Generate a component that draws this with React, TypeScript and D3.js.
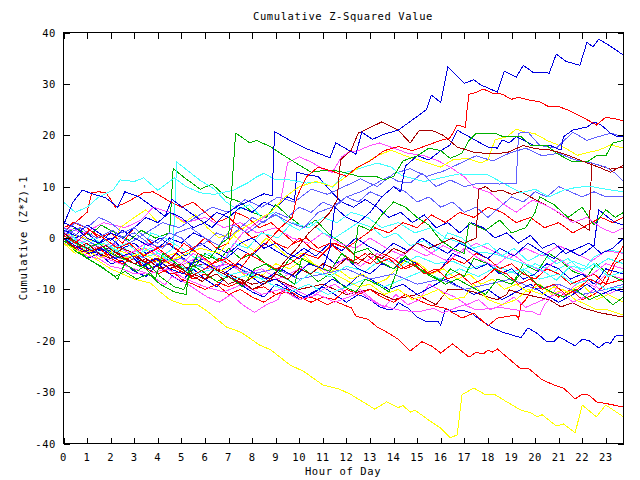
import React from 'react';
import * as d3 from 'd3';

type P = [number, number];

const hourTicks = [0, 1, 2, 3, 4, 5, 6, 7, 8, 9, 10, 11, 12, 13, 14, 15, 16, 17, 18, 19, 20, 21, 22, 23];
const valueTicks = [-40, -30, -20, -10, 0, 10, 20, 30, 40];
const title = 'Cumulative Z-Squared Value';
const xTitle = 'Hour of Day';
const yTitle = 'Cumulative (Z*Z)-1';

const blueTop: P[] = [[0,2.5],[0.4,7],[0.8,9.3],[1.3,8.5],[1.8,7.8],[2.3,6],[2.6,9],[3.2,8],[3.8,6],[4.3,4.2],[4.6,7.5],[5.2,5.5],[5.8,3.5],[6.3,2],[6.8,4.5],[7.4,6.2],[8,7.5],[8.5,8.6],[8.85,8.2],[8.95,20.7],[9.6,19],[10.3,17.4],[11.3,15.6],[11.55,18.5],[12.4,16.3],[12.65,20.6],[13.1,19.2],[13.6,20.2],[14.2,21],[14.8,23],[15.4,25],[15.6,27.8],[16,26.4],[16.3,33.3],[17,30.1],[17.4,30.8],[17.7,29.8],[18.4,28.4],[18.7,32.5],[19.2,31.3],[19.5,33.6],[19.9,32.3],[20.6,32.1],[20.9,35.8],[21.3,34.4],[21.9,33.6],[22.2,38.1],[22.45,37.2],[22.7,38.7],[23.1,37.6],[23.75,35.6]];
const redHigh: P[] = [[0,0.5],[0.5,-1],[1.1,1.5],[1.7,0],[2.3,-2],[2.8,-1],[3.4,-3.5],[4,-2],[4.6,-4],[5.1,-1],[5.7,-3],[6.3,-5],[6.9,-4],[7.5,-6],[8,-3],[8.6,-1],[9.2,2],[9.7,4],[9.9,8],[10.3,11.9],[10.8,13.8],[11.4,13],[12,12],[12.4,13.6],[13,15],[13.6,17],[14.2,17.8],[14.8,17],[15.4,18],[16,19],[16.4,19.5],[16.7,22],[17.05,21.5],[17.1,24.5],[17.2,28],[17.5,28.3],[17.8,29],[18.2,28.2],[18.6,28],[19,27],[19.3,27.4],[19.7,26.9],[20.2,26.5],[20.6,25.5],[21,25.6],[21.5,24.7],[22.1,23.3],[22.6,22],[23,23.5],[23.4,23.2],[23.75,22.8]];
const darkRedHigh: P[] = [[0,1],[0.6,-1],[1.2,-2.5],[1.8,-1.5],[2.4,-3.5],[3,-5],[3.5,-4],[4.1,-6],[4.7,-5],[5.3,-7],[5.9,-8.5],[6.4,-6],[7,-7.5],[7.6,-9],[8.2,-7],[8.8,-8],[9.3,-5],[9.9,-2],[10.4,1],[10.9,3],[11.3,5],[11.6,7.4],[11.75,15.2],[12.2,17.1],[12.5,20.4],[13,21.5],[13.5,22.6],[14.2,21],[14.7,18.5],[15.1,21],[15.6,21],[16.1,20],[16.7,17.7],[17.4,16.7],[18.1,16.4],[18.8,16.6],[19.5,18],[20,17.4],[20.7,17.1],[21.4,16.1],[22.1,14.8],[22.8,13.6],[23.2,12.8],[23.75,14.2]];
const greenJump: P[] = [[0,1],[0.5,-1],[1,-2],[1.5,-1],[2,-3],[2.5,-4],[3,-5],[3.5,-6],[3.9,-8],[4.2,-3],[4.8,-5],[5.3,-7],[5.7,-3],[6.2,-4],[6.7,-1],[7,0],[7.1,7],[7.3,20.4],[7.6,19.5],[7.9,18.5],[8.2,19],[8.8,17.7],[9.5,15.6],[10,14.2],[10.5,12.8],[11.1,13.2],[11.7,13],[12.6,11.9],[13.3,11.9],[13.6,11.3],[14,12],[14.4,15],[15,16],[15.5,17.5],[16,17],[16.4,15.5],[16.9,16.5],[17.2,19],[17.5,20.4],[18.3,20.4],[18.6,19.8],[19.4,19.8],[19.8,18],[20.5,18],[20.9,16.5],[21.6,14.8],[22.2,14.8],[22.6,16],[23,16],[23.3,18.5],[23.75,19]];
const blueUpper: P[] = [[0,0],[0.5,-1.5],[1.1,-3],[1.6,-2],[2.2,-4],[2.8,-3],[3.3,-5.5],[3.9,-4],[4.5,-6],[5.1,-7],[5.6,-4],[6.2,-5.5],[6.8,-7],[7.4,-5],[8,-6.5],[8.6,-8],[9.2,-6],[9.8,-7.5],[10.4,-5],[11,-6],[11.3,-2],[11.5,6],[12,4],[12.5,3],[13,5],[13.5,8],[14,10],[14.3,9],[14.5,14],[15,16],[15.5,15.2],[16,17],[16.4,18.1],[16.7,21],[17.2,19.7],[18,17.7],[18.4,17.5],[18.6,19.1],[18.9,18.5],[19.2,19.7],[19.5,19.1],[19.9,18.1],[20.6,18.1],[21.1,17.1],[21.2,19.7],[21.6,21],[22.2,21.6],[22.5,22.6],[22.8,22],[23.2,20.4],[23.5,19.7],[23.75,19.8]];
const lightBlueUpper: P[] = [[0,2],[0.6,0.5],[1.2,-1],[1.8,-2.5],[2.4,0],[3,1],[3.6,-1],[4.2,-2],[4.8,1],[5.4,2],[6,0],[6.6,-1.5],[7.2,2.5],[7.8,1],[8.4,3],[9,4.5],[9.6,3],[10.2,2],[10.8,5],[11.4,6],[12,8],[12.6,9],[13.2,10.5],[13.8,12],[14.2,11],[14.7,10.7],[15.2,12.6],[15.8,10],[16.4,11.3],[17,10],[17.6,10.7],[18.5,10.5],[19.2,10.7],[19.3,20.4],[19.7,20.6],[20.2,18],[20.9,17.5],[21.6,20.6],[22.2,19],[22.6,19.6],[23.2,20.4],[23.75,19.7]];
const lightBlueHigh: P[] = [[0,0.5],[0.7,2],[1.4,0],[2.1,1.5],[2.8,-1],[3.5,1],[4.2,3],[4.9,2],[5.6,4],[6.3,6],[7,5],[7.7,7.5],[8.4,6],[9.1,8],[9.8,7],[10.5,9.5],[11.2,8.5],[11.9,10],[12.6,11.5],[13.3,10],[14,12.5],[14.7,13.5],[15.4,12],[16.1,13],[16.8,14.5],[17.5,16],[18.2,15],[18.9,16.5],[19.6,17.5],[20.3,16],[21,16.5],[21.7,15.2],[22.4,14.6],[23,13.8],[23.4,12.6],[23.75,11]];
const cyanTop: P[] = [[0,7],[0.5,5],[1,6],[1.5,8],[2.1,9.3],[2.4,11.3],[3,11],[3.4,11.7],[4,9.3],[4.7,11.7],[5.2,10],[5.8,8.8],[6.4,8.5],[7.2,9.3],[7.8,10.7],[8.2,11.9],[8.5,12.6],[9,11.3],[9.6,11.3],[10.3,10.7],[11,10.8],[11.4,9.9],[12,12.8],[12.6,13.6],[13.3,14.6],[13.9,13.8],[14.3,12.3],[14.7,11.7],[15.3,11],[15.8,11.5],[16.3,12],[16.8,12.5],[17.2,12.3],[18,12.3],[18.8,10.3],[19.4,8.8],[20,9.5],[20.6,8],[21.2,9.3],[21.8,9.9],[22.4,10],[23,9.5],[23.75,9]];
const cyanJump: P[] = [[0,1],[0.5,-0.5],[1,-1.5],[1.6,0.5],[2.1,-2],[2.7,-1],[3.2,-3],[3.7,-2],[4.2,-3.5],[4.65,-2],[4.8,14.8],[5.3,13],[5.8,11.2],[6.4,9.5],[6.9,7],[7.4,5.5],[7.9,6.5],[8.4,4],[8.9,5],[9.4,3],[10,1.5],[10.5,3],[11,1],[11.5,0],[12,1.5],[12.5,3],[13.1,2],[13.6,0],[14.1,1],[14.7,-1.5],[15.3,-0.5],[15.8,-2.5],[16.3,1],[16.9,0],[17.4,-2],[18,-1],[18.6,-3.5],[19.1,-2],[19.7,-4.5],[20.3,-3],[20.9,-5],[21.4,-4],[22,-6.5],[22.5,-5],[23.1,-7.5],[23.75,-6.5]];
const cyanMid: P[] = [[0,2],[0.7,-1],[1.3,0],[2,-3],[2.6,-2],[3.2,-4],[3.7,1],[4.3,0],[5,-2],[5.6,-4],[6.2,-3],[6.8,-5],[7.2,-1],[7.8,-2],[8.4,1],[9.1,0],[9.7,3],[10.4,2],[11,4],[11.6,3],[12.2,5],[12.9,4],[13.5,2],[14.2,3],[14.9,1],[15.6,2],[16.2,0],[16.9,-1],[17.5,-2.7],[18.2,-3],[18.9,-4],[19.5,-5],[20.2,-6],[20.9,-8.2],[21.5,-5.5],[22.1,-6],[22.5,-3.7],[23.1,-2.3],[23.75,-2.8]];
const cyanLow: P[] = [[0,0],[0.9,-2],[1.7,-1],[2.6,-3.5],[3.5,-5],[4.3,-4],[5.2,-6.5],[6,-5],[6.8,-7.5],[7.6,-6.5],[8.4,-8],[9.1,-7],[9.8,-9],[10.6,-6.5],[11.3,-7.5],[12,-5.5],[12.8,-6.5],[13.5,-4],[14.3,-5.5],[15,-3.5],[15.8,-5],[16.5,-4.5],[17.2,-6],[18,-5],[18.7,-7],[19.5,-6],[20.2,-8],[21,-7],[21.7,-9],[22.4,-8],[23,-10],[23.75,-9.5]];
const cyanLower: P[] = [[0,0.5],[0.8,-1.5],[1.6,-3],[2.4,-2],[3.2,-4],[4,-3],[4.8,-5],[5.6,-7],[6.4,-6],[7.2,-8],[8,-7],[8.8,-9],[9.6,-10.5],[10.4,-9],[11.2,-11],[12,-9.5],[12.8,-8],[13.6,-9.5],[14.4,-8],[15.2,-6.5],[16,-8],[16.8,-6],[17.6,-7.5],[18.4,-5.5],[19.2,-7],[20,-5],[20.8,-6.5],[21.6,-4.5],[22.4,-6],[23.1,-4],[23.75,-5]];
const magentaHigh: P[] = [[0,-1],[0.8,-3],[1.6,-2],[2.4,-4],[3,-2.5],[3.5,-1],[4.2,-3],[5,-5],[5.5,-3],[6.1,-4.5],[6.6,-6],[7.1,-2],[7.6,1],[8.2,3],[8.8,5],[9.2,7],[9.5,14.6],[10,15.8],[10.5,14.8],[11.1,13.2],[11.4,12.8],[11.8,15.8],[12.1,16.7],[12.5,17],[13,18],[13.4,18.5],[14,17.5],[14.6,16.5],[15.3,16],[15.9,15],[16.4,13.8],[17,11.9],[17.4,9.9],[18.1,8.8],[18.6,6.8],[19.2,5],[19.9,7.4],[20.4,6.5],[21,5],[21.6,3],[22.2,4],[22.8,2],[23.3,1],[23.75,2]];
const magentaLow: P[] = [[0,0],[0.5,-2],[1,-3.5],[1.5,-4],[2,-5.5],[2.5,-6],[3,-7],[3.5,-6.8],[4,-8.2],[4.3,-9.1],[4.6,-7.5],[5.1,-8.5],[5.6,-10],[6.1,-11.5],[6.6,-12.5],[7.1,-11],[7.6,-13],[8.1,-14.5],[8.6,-13],[9.1,-12],[9.4,-9],[10,-10.5],[10.5,-11.5],[11,-10],[11.5,-9],[12.1,-11],[12.6,-10],[13.1,-12],[13.6,-13.5],[14.1,-11],[14.6,-13],[15.1,-12],[15.5,-9],[16.1,-10.5],[16.6,-11.5],[17.1,-13],[17.6,-12],[18.1,-14],[18.6,-13],[19.1,-11.5],[19.6,-13.5],[20.1,-12.5],[20.6,-11.5],[21.1,-10.5],[21.6,-12.5],[22.1,-11.5],[22.6,-9.5],[23.1,-11],[23.75,-9.5]];
const magentaBottom: P[] = [[0,-1],[0.9,-2.5],[1.8,-4],[2.7,-5.5],[3.6,-7],[4.4,-6],[5.2,-8],[6,-9.5],[6.8,-10.5],[7.6,-9],[8.4,-11],[9.2,-10],[10,-12],[10.8,-11],[11.5,-12.5],[12.1,-11.5],[12.6,-10.5],[13,-12],[13.4,-13],[14.2,-14],[15,-14.4],[15.7,-13.7],[16.1,-14.6],[16.4,-14],[17,-13],[17.5,-14],[18.5,-13.5],[19.2,-14],[19.9,-14.4],[20.2,-15],[20.4,-13],[20.6,-12],[21,-9],[21.5,-10],[22,-8],[22.5,-9.5],[23,-7],[23.75,-8]];
const magentaMid: P[] = [[0,2],[0.9,1],[1.7,3],[2.6,2],[3.3,3.5],[3.8,6],[4.5,5],[5.2,3],[6,4],[6.8,2],[7.5,3],[8.2,1],[9,2],[9.7,0],[10.4,-1],[11,1],[11.7,-1],[12.4,-2],[13,0],[13.7,-2],[14.4,-3.5],[15,-1],[15.6,-3],[16.3,-4.5],[17,-2],[17.6,-4],[18.3,-5.5],[19,-3],[19.6,-5],[20.3,-6.5],[21,-4],[21.6,-6],[22.3,-7.5],[23,-5],[23.75,-6]];
const magentaMid2: P[] = [[0,1],[0.7,-0.5],[1.4,-2],[2.1,-1],[2.8,-3],[3.5,-2],[4.2,-4],[4.9,-5.5],[5.6,-4],[6.3,-6],[7,-5],[7.7,-7],[8.4,-6],[9.1,-8],[9.8,-6.5],[10.5,-5],[11.2,-6.5],[11.9,-4],[12.6,-5.5],[13.3,-3],[14,-4.5],[14.7,-2],[15.4,-3.5],[16.1,-1.5],[16.8,-3],[17.5,-1],[18.2,-2.5],[18.9,-4],[19.6,-2],[20.3,-3.5],[21,-1.5],[21.7,-3],[22.4,-4.5],[23,-2.5],[23.75,-3]];
const yellowBottom: P[] = [[0,0],[0.5,-1.5],[1,-3],[1.5,-4.5],[2,-6],[2.5,-7],[3,-8],[3.7,-8.8],[4.1,-10.5],[4.5,-12],[5.1,-13],[5.7,-13],[6.2,-14.6],[6.9,-17.3],[7.5,-18.3],[7.9,-19.5],[8.3,-20.8],[8.8,-21.8],[9.6,-24.7],[10.2,-26],[11,-28.6],[11.7,-29.4],[12.2,-30.5],[12.7,-31.9],[13.2,-33.3],[13.7,-31.9],[14.2,-33],[14.4,-32.6],[14.7,-33.9],[14.9,-33.5],[15.6,-35.8],[16,-37],[16.4,-38.9],[16.7,-38.3],[16.9,-30.5],[17.4,-29.2],[17.9,-30.5],[18.3,-30.5],[18.8,-31.9],[19.4,-33.5],[19.8,-34],[20.1,-34.8],[20.3,-34.4],[20.9,-36.6],[21.2,-36.2],[21.7,-37.9],[22,-32.5],[22.6,-34.8],[23,-32.5],[23.75,-34.8]];
const yellowHigh: P[] = [[0,-1],[0.8,-3],[1.6,-2],[2.5,-4],[3.3,-3],[4.2,-5],[5,-3.5],[5.8,-2],[6.6,-3],[7.3,1],[8,3],[8.8,5],[9.4,8],[10,10],[10.7,11],[11.4,10],[12,12],[12.6,14],[13.3,16],[13.9,17.1],[14.5,16],[15.2,15],[16,13.8],[16.5,15.2],[17.1,15.5],[17.7,14.6],[18,15.2],[18.3,19.1],[18.8,19.7],[19.2,21.2],[19.6,20.6],[20,20.3],[20.5,19],[21.2,17.7],[21.8,16.1],[22.2,16.6],[22.7,17.1],[23.2,18.1],[23.75,17.5]];
const yellowMid: P[] = [[0,-1],[0.5,-3],[1,-2],[1.5,-4],[2,-3],[2.4,2],[3,4],[3.5,5.5],[4,3],[4.5,5],[5.1,3],[5.6,4.5],[6.1,2],[6.6,0],[7.1,1],[7.6,-1],[8.1,-2.5],[8.6,0],[9.1,-2],[9.6,-4],[10.1,-3],[10.6,-5],[11.1,-7],[11.6,-6],[12.2,-8],[12.7,-7],[13.2,-9],[13.7,-8],[14.1,-6],[14.6,-4],[15.1,-5],[15.6,-7],[16.1,-6],[16.7,-8],[17.2,-7],[17.7,-9],[18.2,-8],[18.7,-10],[19.2,-9],[19.7,-10.5],[20.2,-9],[20.7,-11],[21.2,-10],[21.7,-12],[22.2,-13],[22.6,-14],[23.1,-14],[23.75,-15]];
const yellowLow: P[] = [[0,1],[0.9,0],[1.8,-1.5],[2.7,-3],[3.4,-2],[4.1,-4],[4.7,-3],[5.3,-5],[5.9,-4],[6.6,-6.5],[7.2,-5.5],[7.9,-8],[8.5,-7],[9,-5],[9.6,-6],[10.2,-4],[10.8,-5.5],[11.3,-6.5],[11.9,-8],[12.5,-9.5],[13,-9],[13.6,-11],[14.2,-10],[14.8,-12],[15.4,-11],[15.9,-10],[16.4,-12],[17,-11.5],[17.4,-9],[18,-12],[18.6,-13],[19.2,-12],[19.7,-10],[20.3,-11],[20.8,-9.5],[21.4,-10.5],[22,-9],[22.6,-12],[23.1,-11],[23.75,-12.5]];
const redLow: P[] = [[0,0],[0.5,-1.5],[1,-2.5],[1.5,-2],[2,-4],[2.5,-3.5],[3,-5],[3.5,-6],[4,-5.5],[4.5,-7],[5,-6.5],[5.5,-8],[6,-7],[6.5,-8.5],[7,-9.5],[7.5,-8.5],[8,-10],[8.5,-9.5],[9,-11],[9.5,-10.5],[10,-12],[10.5,-11.5],[11,-12.5],[11.2,-13],[11.5,-12.3],[12.2,-13.6],[12.4,-15.2],[12.9,-15.8],[13.3,-17.3],[13.7,-18.3],[14.2,-19.7],[14.7,-22],[15.2,-20.2],[15.6,-21],[16,-22.4],[16.5,-20.6],[17.2,-23.2],[17.5,-22.2],[17.8,-22.6],[18,-21.8],[18.2,-22.2],[18.4,-21.6],[19.4,-25.5],[19.7,-25.3],[20.3,-27.6],[20.8,-28.6],[21.2,-29.2],[21.7,-31.3],[22,-30.4],[22.3,-30.6],[22.6,-31.9],[23.1,-32.3],[23.75,-32.9]];
const blueLow: P[] = [[0,-1],[0.5,-2],[1,-4],[1.5,-3],[2,-5],[2.5,-4.5],[3,-6.5],[3.5,-7.5],[4,-5],[4.5,-7],[5,-8.5],[5.5,-6],[6,-8],[6.5,-9.5],[7,-7],[7.5,-9],[8,-10.5],[8.5,-11.5],[9,-9],[9.5,-10],[10,-12],[10.5,-11],[11,-9.5],[11.5,-11],[12,-12.5],[12.5,-11],[13,-12],[13.4,-13.4],[13.8,-14],[14,-13.8],[14.2,-12.6],[14.6,-13.6],[15,-15.4],[15.4,-16.3],[15.9,-16.3],[16,-17],[16.2,-13.7],[16.5,-14.4],[16.9,-14],[17.3,-14.6],[17.7,-16],[18.2,-17.5],[18.6,-18.3],[19.4,-19.4],[19.7,-17.5],[20.1,-18.6],[20.5,-20.2],[20.8,-20.2],[21,-19.2],[21.7,-21],[22,-19.7],[22.3,-20],[22.7,-21.4],[23,-20.3],[23.2,-20.5],[23.4,-19.1],[23.75,-18.9]];
const blueLow2: P[] = [[0,0],[0.6,-1],[1.2,-3],[1.8,-2],[2.4,-4],[3,-3.5],[3.6,-6],[4.2,-5],[4.8,-3],[5.4,-5],[6,-4],[6.6,-6.5],[7.2,-5],[7.8,-7],[8.4,-9],[9,-8],[9.6,-10],[10.2,-11.5],[10.8,-10],[11.4,-8],[12,-9.5],[12.6,-7],[13.2,-8.5],[13.8,-10],[14.4,-9],[15,-11],[15.6,-9.5],[16.2,-8],[16.8,-9.5],[17.4,-11],[18,-10],[18.6,-12],[19.2,-10.5],[19.8,-9],[20.4,-11],[21,-12.5],[21.6,-11],[22.2,-9],[22.8,-11],[23.3,-10],[23.75,-10.5]];
const redMidLow: P[] = [[0,0],[0.5,-1],[1,-3],[1.5,-2],[2,-4],[2.5,-5],[3,-4],[3.5,-6],[4,-7],[4.5,-6],[5,-8],[5.5,-9],[6,-10],[6.5,-9],[7,-11],[7.5,-10],[8,-11.5],[8.5,-12.5],[9,-11],[9.5,-10],[10,-11.5],[10.5,-12.5],[11,-11.5],[11.5,-12],[12,-10],[12.5,-11],[13,-10],[13.5,-11.5],[14,-12.5],[14.5,-11],[15,-12],[15.5,-13],[16.2,-13.7],[16.9,-15.6],[17.4,-14.6],[18,-17.1],[18.4,-15.6],[19.2,-15],[19.3,-15.8],[19.4,-13],[19.6,-12],[20,-9],[20.5,-10],[21,-11.5],[21.5,-10],[22,-12],[22.5,-11],[23,-9],[23.4,-5],[23.75,-4]];
const redMid: P[] = [[0,1],[0.4,3],[1,2],[1.5,0],[2,1],[2.5,-1],[3,2],[3.5,0],[4,-2],[4.5,-1],[5,-3],[5.5,-2],[6,0],[6.5,-2],[7,-1],[7.3,5],[7.8,4],[8.3,2],[8.8,3],[9.3,1],[9.8,-1],[10.3,0],[10.8,-2],[11.3,-1],[11.8,-3],[12.3,-4.5],[12.8,-3],[13.3,-5],[13.8,-4],[14.3,-6],[14.8,-5],[15.3,-7],[15.8,-6],[16.3,-8],[16.8,-7],[17.3,-9],[17.8,-8],[18.3,-6],[18.8,-7],[19.3,-9],[19.8,-8],[20.3,-10],[20.8,-9],[21.3,-11],[21.8,-10],[22.3,-8],[22.8,-9],[23.3,-5],[23.75,-1.5]];
const redMid2: P[] = [[0,-0.5],[0.6,-2],[1.2,-1],[1.8,-3],[2.4,-4.5],[3,-3.5],[3.6,-5],[4.2,-4],[4.8,-6],[5.4,-7.5],[6,-6],[6.6,-4],[7.2,-5.5],[7.8,-3],[8.4,-4.5],[9,-6],[9.6,-5],[10.2,-3],[10.8,-4],[11.4,-1],[12,-2],[12.6,0],[13.2,2],[13.8,1],[14.4,3],[15,2],[15.6,4.5],[16.2,3],[16.8,5],[17.4,4],[18,6],[18.6,5],[19.2,3],[19.8,4],[20.4,2],[21,3],[21.6,1],[22.2,2.5],[22.8,4],[23.3,3],[23.75,4]];
const redEarly: P[] = [[0,2],[0.5,3],[1,5],[1.2,8.8],[1.5,9],[1.8,8.8],[2,7.5],[2.2,6],[2.7,7],[3.4,8.8],[3.8,9],[4.4,7.4],[5,6],[5.5,7],[6,5],[6.5,3],[7,4],[7.5,2],[8,0],[8.5,1],[9,-1],[9.5,-2],[10,0],[10.5,-2],[11,-3],[11.5,-1],[12,-2],[12.5,-4],[13,-5],[13.5,-3],[14,-4],[14.5,-6],[15,-5],[15.5,-7],[16,-6],[16.5,-4],[17,-5],[17.5,-3],[18,-4],[18.5,-6],[19,-5],[19.5,-7],[20,-8],[20.5,-6],[21,-7],[21.5,-9],[22,-8],[22.5,-7],[23,-9],[23.75,-8]];
const darkRedMid: P[] = [[0,0],[0.5,-2],[1,-1],[1.5,-3],[2,-4],[2.5,-2],[3,-3],[3.5,-5],[4,-4],[4.5,-6],[5,-5],[5.5,-7],[6,-8],[6.5,-7],[7,-9],[7.5,-8],[8,-10],[8.5,-9],[9,-7],[9.5,-8],[10,-6],[10.5,-7],[11,-5],[11.5,-6],[12,-4],[12.5,-5],[13,-3],[13.5,-4],[14,-2],[14.5,-3],[15,-1],[15.5,-2],[16,-1],[16.5,0],[17,-1],[17.5,0],[17.6,9.5],[17.9,10],[18.2,9],[18.6,9.3],[19,8.5],[19.4,9],[19.8,8],[20.3,6.8],[20.8,5.5],[21.3,4],[21.8,3],[22.3,1.5],[22.4,14.6],[22.8,14],[23.2,13.4],[23.75,13.8]];
const darkRedLow: P[] = [[0,-1],[1,-3],[2,-2],[3,-5],[4,-4],[5,-6],[6,-5],[7,-7],[8,-9],[9,-8],[10,-10],[11,-9],[12,-11],[13,-10],[14,-12],[15,-11],[15.8,-13],[16.3,-10.1],[16.9,-10],[17.4,-10.5],[18,-11.5],[18.4,-12],[18.8,-11],[18.9,-10.1],[19.4,-10.8],[20.1,-11.5],[20.6,-12],[21.1,-13.4],[21.6,-12.6],[22,-13.6],[22.8,-14.6],[23.75,-15.4]];
const blueJump: P[] = [[0,3],[0.5,2],[1,0],[1.5,-1],[2,1],[2.5,0],[3,2],[3.5,4],[4,3],[4.5,5],[5,4],[5.5,2],[6,3],[6.5,5],[7,4],[7.5,6],[8,5],[8.5,7],[9,6],[9.5,8],[9.8,7.4],[9.9,12.8],[10.4,12.2],[10.8,12],[11.3,9.3],[11.8,7],[12.3,6],[12.8,7.5],[13.3,6],[13.8,4],[14.3,5],[14.8,3],[15.3,4.5],[15.8,2],[16.3,3],[16.8,1],[17.3,3],[17.8,2],[18.3,0],[18.8,1],[19.3,-1],[19.8,0.5],[20.3,-2],[20.8,-1],[21.3,-3],[21.8,-2],[22.3,-1],[22.8,-3],[23.3,-2],[23.75,0]];
const blueMid: P[] = [[0,2],[0.5,0],[1,1],[1.5,-1],[2,0],[2.5,-2],[3,-1],[3.5,-3],[4,-2],[4.5,0],[5,-1],[5.5,1],[6,0],[6.5,-2],[7,-3],[7.5,-1],[8,0],[8.5,-2],[9,-1],[9.5,-3],[10,-4],[10.5,-2],[11,-3],[11.5,-5],[12,-4],[12.5,-6],[13,-7],[13.5,-5],[14,-6],[14.5,-4],[15,-5],[15.5,-7],[16,-6],[16.5,-3],[17,-4],[17.5,-6],[18,-5],[18.5,-7],[19,-6],[19.5,-8],[20,-7],[20.5,-5],[21,-6],[21.5,-8],[22,-7],[22.5,-9],[23,-6],[23.75,-7]];
const blueLate: P[] = [[0,1.5],[0.5,0.5],[1,2.5],[1.5,1],[2,-0.5],[2.5,1.5],[3,0],[3.6,-1.5],[4.1,0],[4.7,-2],[5.2,-3.5],[5.8,-1],[6.3,-2.5],[6.9,-4],[7.4,-2],[8,-3.5],[8.5,-1],[9,-2.5],[9.6,-4],[10.2,-2],[10.7,-3.5],[11.3,-1],[11.8,-2.5],[12.4,0],[12.9,-1.5],[13.5,-3],[14,-1],[14.6,-2.5],[15.2,0],[15.7,-1.5],[16.3,-3],[16.8,-1],[17.4,-2.5],[18,-4],[18.5,-2],[19.1,-3.5],[19.7,-1],[20.2,-2.5],[20.8,-4],[21.3,-2],[21.9,-3.5],[22.5,-1.5],[22.7,5.5],[23.1,4],[23.4,3],[23.75,2.5]];
const lightBlueMid: P[] = [[0,1],[0.5,3],[1,2],[1.5,4],[2,3],[2.5,1],[3,2],[3.5,0],[4,-1],[4.5,1],[5,0],[5.5,-2],[6,-1],[6.5,1],[7,0],[7.5,2],[8,4],[8.5,3],[9,5],[9.5,4],[10,6],[10.5,5],[11,7],[11.5,6],[12,8],[12.5,7],[13,9],[13.5,8],[14,10],[14.5,9],[15,7],[15.5,8],[16,6],[16.5,7],[17,5],[17.5,6],[18,4],[18.5,6],[19,8],[19.5,7],[20,9],[20.5,8],[21,10],[21.5,9],[22,8],[22.5,9],[23,8],[23.75,8]];
const lightBlueLow: P[] = [[0,0],[1,-2],[2,-4],[3,-3],[4,-5],[5,-4],[6,-6],[7,-5],[8,-7],[9,-6],[10,-8],[11,-7],[12,-6],[13,-8],[14,-7],[15,-9],[16,-8],[17,-10],[18,-9],[19,-8],[20,-10],[21,-9],[22,-11],[23,-10],[23.75,-9]];
const greenMid: P[] = [[0,-0.5],[0.6,-2.5],[1.2,-4.5],[1.7,-6],[2.2,-7.5],[2.6,-6.5],[3.1,-8],[3.6,-7],[4.1,-9],[4.7,-10.5],[5.2,-11],[5.35,-5],[5.9,-6.5],[6.5,-8.5],[7,-7.5],[7.6,-9.5],[8.1,-6],[8.6,-5],[9.2,-7],[9.8,-9],[10.1,-4],[10.7,-5.5],[11.3,-6.5],[11.8,-3],[12.3,-5],[12.5,2.5],[13,1.5],[13.5,4.5],[14,7],[14.5,6],[15,4],[15.5,2.5],[16,-0.5],[16.5,-2],[17,-3],[17.2,3],[17.9,1.5],[18.5,3.5],[19,1],[19.6,2],[20,5],[20.2,8],[20.8,6.5],[21.4,4],[22,6],[22.5,2.5],[23,5.5],[23.4,4],[23.75,5]];
const greenEarly: P[] = [[0,0.5],[0.5,2],[1.1,0.5],[1.6,2.5],[2.2,1],[2.8,-0.5],[3.3,1.5],[3.9,0],[4.5,1],[4.65,13.5],[5.2,11.5],[5.8,9.5],[6.3,10.5],[6.9,8],[7.5,7],[8,5],[8.6,4],[9,6.5],[9.6,4],[10.2,2],[10.7,3.5],[11.2,1],[11.8,-1],[12.3,-3],[12.9,-2],[13.4,-4.5],[14,-6],[14.5,-3.5],[15.1,-6],[15.7,-7.5],[16.2,-9],[16.7,-8],[17.3,-9.5],[17.9,-11],[18.4,-8],[19,-9],[19.5,-6.5],[20.1,-9],[20.7,-10.5],[21.2,-11.5],[21.7,-10],[22.3,-12],[22.8,-11],[23.3,-13],[23.75,-11.5]];
const greenLow: P[] = [[0,0],[0.5,-2.5],[1,-4],[1.6,-5.5],[2.3,-8],[2.6,-5],[3.1,-6.5],[3.6,-5],[4.1,-7.5],[4.7,-9.5],[5.1,-10],[5.5,-6],[6,-3],[6.6,-4.5],[7,-2],[7.5,-4],[8.1,-3],[8.7,-5.5],[9.2,-6.5],[9.6,-4],[10.2,-6],[10.8,-8.5],[11.3,-7],[11.9,-9.5],[12.4,-10.5],[12.8,-8],[13.3,-9],[13.8,-10.5],[14.1,-7],[14.3,-4],[14.9,-5.5],[15.4,-7],[16,-8.5],[16.4,-6],[17,-7.5],[17.4,-4],[18,-5],[18.6,-7],[19.1,-8.5],[19.5,-5],[20.1,-6.5],[20.6,-3],[21.1,-4.5],[21.6,-6.5],[22.2,-7.5],[22.6,-5],[23.1,-7],[23.75,-8.5]];

const RED = '#ff0000';
const GREEN = '#00b000';
const BLUE = '#0000e0';
const MAGENTA = '#ff50ff';
const CYAN = '#40ffff';
const DARKRED = '#a80000';
const YELLOW = '#ffff00';
const LIGHTBLUE = '#6060ff';

const series: { color: string; pts: P[] }[] = [
  { color: YELLOW, pts: yellowBottom },
  { color: RED, pts: redLow },
  { color: BLUE, pts: blueLow },
  { color: DARKRED, pts: darkRedLow },
  { color: RED, pts: redMidLow },
  { color: MAGENTA, pts: magentaBottom },
  { color: MAGENTA, pts: magentaLow },
  { color: BLUE, pts: blueLow2 },
  { color: YELLOW, pts: yellowLow },
  { color: CYAN, pts: cyanLower },
  { color: YELLOW, pts: yellowMid },
  { color: LIGHTBLUE, pts: lightBlueLow },
  { color: GREEN, pts: greenLow },
  { color: CYAN, pts: cyanLow },
  { color: BLUE, pts: blueMid },
  { color: MAGENTA, pts: magentaMid2 },
  { color: GREEN, pts: greenEarly },
  { color: RED, pts: redEarly },
  { color: MAGENTA, pts: magentaMid },
  { color: CYAN, pts: cyanMid },
  { color: BLUE, pts: blueLate },
  { color: RED, pts: redMid },
  { color: RED, pts: redMid2 },
  { color: CYAN, pts: cyanJump },
  { color: BLUE, pts: blueJump },
  { color: LIGHTBLUE, pts: lightBlueMid },
  { color: GREEN, pts: greenMid },
  { color: DARKRED, pts: darkRedMid },
  { color: LIGHTBLUE, pts: lightBlueHigh },
  { color: MAGENTA, pts: magentaHigh },
  { color: CYAN, pts: cyanTop },
  { color: YELLOW, pts: yellowHigh },
  { color: LIGHTBLUE, pts: lightBlueUpper },
  { color: BLUE, pts: blueUpper },
  { color: GREEN, pts: greenJump },
  { color: DARKRED, pts: darkRedHigh },
  { color: RED, pts: redHigh },
  { color: BLUE, pts: blueTop },
];

const FONT = "'DejaVu Sans Mono', monospace";

export default function App() {
  const W = 640, H = 480;
  const L = 63.5, R = 623.5, T = 32.5, B = 443.5;
  const x = d3.scaleLinear().domain([0, 23.75]).range([L, R]);
  const y = d3.scaleLinear().domain([-40, 40]).range([B, T]);
  const line = d3.line<P>().x(d => x(d[0])).y(d => y(d[1]));
  const tk = 6;
  return (
    <svg width={W} height={H} style={{ position: 'absolute', left: 0, top: 0, background: '#fff' }}
      fontFamily={FONT} fontSize={10.5} letterSpacing={0.6}>
      <rect x={0} y={0} width={W} height={H} fill="#fff" />
      <clipPath id="clip"><rect x={L} y={T} width={R - L} height={B - T} /></clipPath>
      <g clipPath="url(#clip)">
        {series.map((s, i) => (
          <path key={i} d={line(s.pts) || ''} fill="none" stroke={s.color} strokeWidth={1}
            shapeRendering="crispEdges" />
        ))}
      </g>
      <rect x={L} y={T} width={R - L} height={B - T} fill="none" stroke="#000" strokeWidth={1} shapeRendering="crispEdges" />
      {hourTicks.map(h => (
        <g key={'x' + h}>
          <line x1={Math.round(x(h)) + 0.5} x2={Math.round(x(h)) + 0.5} y1={B} y2={B - tk} stroke="#000" shapeRendering="crispEdges" />
          <line x1={Math.round(x(h)) + 0.5} x2={Math.round(x(h)) + 0.5} y1={T} y2={T + tk} stroke="#000" shapeRendering="crispEdges" />
          <text x={x(h)} y={461} textAnchor="middle">{h}</text>
        </g>
      ))}
      {valueTicks.map(v => (
        <g key={'y' + v}>
          <line x1={L} x2={L + tk} y1={Math.round(y(v)) + 0.5} y2={Math.round(y(v)) + 0.5} stroke="#000" shapeRendering="crispEdges" />
          <line x1={R} x2={R - tk} y1={Math.round(y(v)) + 0.5} y2={Math.round(y(v)) + 0.5} stroke="#000" shapeRendering="crispEdges" />
          <text x={56} y={y(v) + 4} textAnchor="end">{v}</text>
        </g>
      ))}
      <text x={343} y={20} textAnchor="middle">{title}</text>
      <text x={343} y={475} textAnchor="middle">{xTitle}</text>
      <text transform="translate(27,238) rotate(-90)" textAnchor="middle">{yTitle}</text>
    </svg>
  );
}
